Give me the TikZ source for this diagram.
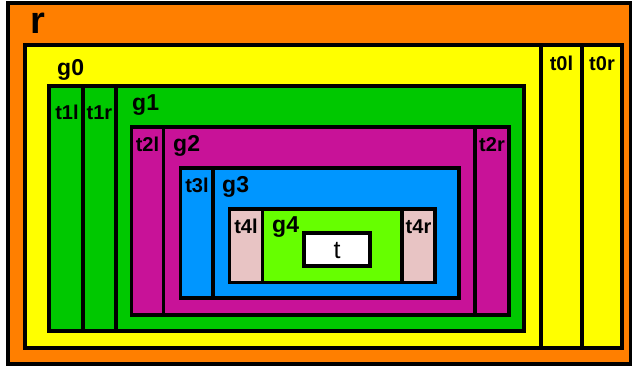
\documentclass[tikz,border=0pt]{standalone}
\usepackage{fontspec}
\setmainfont{Liberation Sans}
\definecolor{cOrange}{RGB}{255,127,0}
\definecolor{cYellow}{RGB}{255,255,0}
\definecolor{cGreen}{RGB}{0,200,0}
\definecolor{cMagenta}{RGB}{200,18,152}
\definecolor{cBlue}{RGB}{0,150,255}
\definecolor{cLime}{RGB}{102,255,0}
\definecolor{cPink}{RGB}{232,196,196}
\newcommand\clbox[6]{\node[cb, fill=#6, minimum width={#4pt-#2pt}, minimum height={#5pt-#3pt}] (#1) at (#2,#3) {};}
\tikzset{
  cb/.style={draw=black, line width=3.5pt, anchor=north west, inner sep=0pt, outer sep=0pt, rectangle},
  glab/.style={font=\fontsize{23}{23}\selectfont\bfseries, anchor=base west, inner sep=0pt},
  tlab/.style={font=\fontsize{20}{20}\selectfont\bfseries, anchor=base, inner sep=0pt},
}
\begin{document}
\begin{tikzpicture}[x=1pt,y=-1pt]
\useasboundingbox (0,0) rectangle (632,367);
\clbox{r}{8}{3}{630.5}{364}{cOrange}
\clbox{g0}{25}{45}{622}{348}{cYellow}
\clbox{t0l}{541}{45}{582}{348}{cYellow}
\clbox{t0r}{582}{45}{622}{348}{cYellow}
\clbox{g1}{49}{86}{524}{331}{cGreen}
\clbox{t1l}{49}{86}{83}{331}{cGreen}
\clbox{t1r}{83}{86}{116}{331}{cGreen}
\clbox{g2}{131.5}{127}{509}{315}{cMagenta}
\clbox{t2l}{131.5}{127}{163.5}{315}{cMagenta}
\clbox{t2r}{475}{127}{509}{315}{cMagenta}
\clbox{g3}{180.5}{168}{459}{298}{cBlue}
\clbox{t3l}{180.5}{168}{213}{298}{cBlue}
\clbox{g4}{229.5}{209}{435}{282.5}{cLime}
\clbox{t4l}{229.5}{209}{262.5}{282.5}{cPink}
\clbox{t4r}{402}{209}{435}{282.5}{cPink}
\clbox{t}{304}{233}{370}{266}{white}
% labels
\node[font=\fontsize{38}{38}\selectfont\bfseries, anchor=base, inner sep=0pt] (rL) at (38,33) {r};
\node[glab] (g0L) at (57,75) {g0};
\node[glab] (g1L) at (132,110) {g1};
\node[glab] (g2L) at (173,151) {g2};
\node[glab] (g3L) at (222,192) {g3};
\node[glab] (g4L) at (272,232) {g4};
\node[tlab] (t0lL) at (561.5,70) {t0l};
\node[tlab] (t0rL) at (602,70) {t0r};
\node[tlab] (t1lL) at (67,119) {t1l};
\node[tlab] (t1rL) at (99.5,119) {t1r};
\node[tlab] (t2lL) at (147.5,151) {t2l};
\node[tlab] (t2rL) at (492,151) {t2r};
\node[tlab] (t3lL) at (197,192) {t3l};
\node[tlab] (t4lL) at (246,233) {t4l};
\node[tlab] (t4rL) at (418.5,233) {t4r};
\node[font=\fontsize{25}{25}\selectfont, anchor=base, inner sep=0pt] (tL) at (337,258) {t};
\end{tikzpicture}
\end{document}
